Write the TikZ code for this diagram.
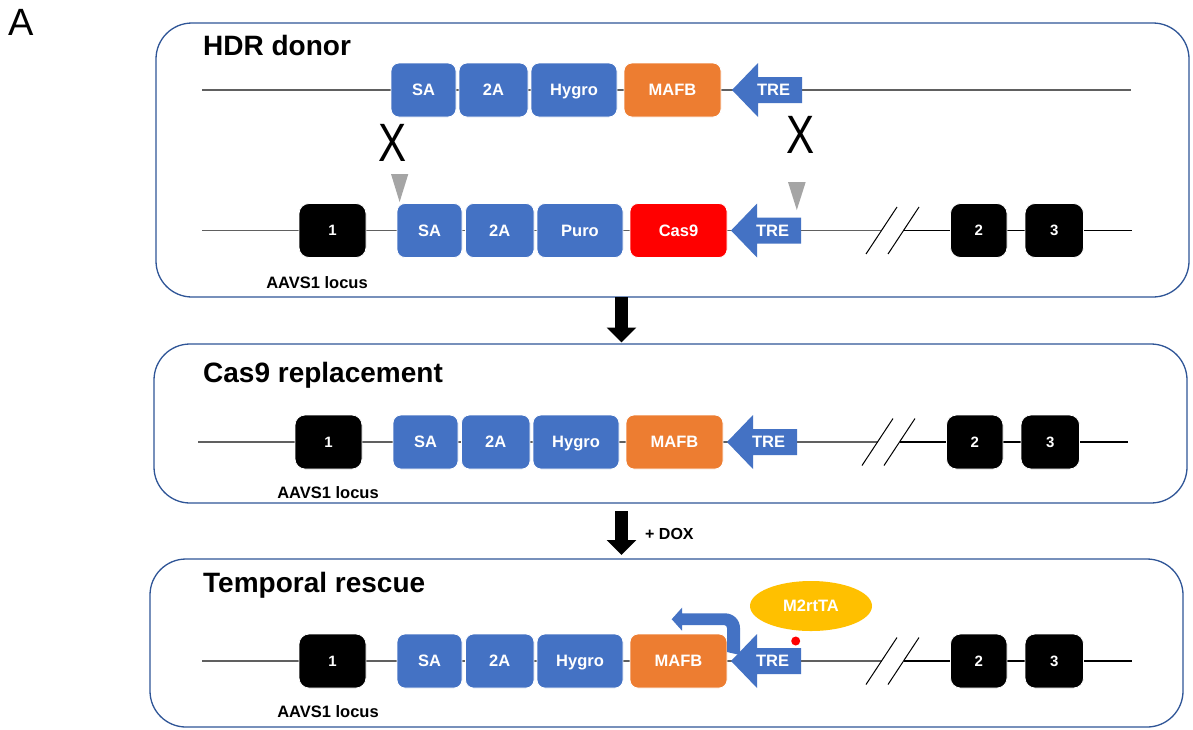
\documentclass[tikz,border=0pt]{standalone}
\usepackage{fontspec}
\setmainfont{Liberation Sans}
\usetikzlibrary{shapes.geometric,arrows.meta}
\definecolor{gblue}{HTML}{4472C4}
\definecolor{gorange}{HTML}{ED7D31}
\definecolor{gred}{HTML}{FF0000}
\definecolor{gyellow}{HTML}{FFC000}
\definecolor{ggray}{HTML}{A5A5A5}
\definecolor{pborder}{HTML}{2F5597}
\definecolor{lgray}{HTML}{606060}
\tikzset{
  panel/.style={draw=pborder, line width=1.3pt, rounded corners=36pt, inner sep=0pt},
  gene/.style={rounded corners=8pt, draw=white, line width=0.8pt, minimum height=54pt,
    inner sep=0pt, text=white, text height=11.8pt, text depth=0pt,
    font=\fontsize{16.5}{19}\selectfont\bfseries},
  exon/.style={gene, fill=black, rounded corners=10pt, text height=10.8pt,
    font=\fontsize{15}{18}\selectfont\bfseries},
  dna/.style={draw=lgray, line width=1.3pt},
  dnab/.style={draw=black, line width=1.3pt},
  slash/.style={draw=black, line width=1pt},
  title/.style={anchor=base west, inner sep=0pt, font=\fontsize{28}{32}\selectfont\bfseries},
  locus/.style={anchor=base, inner sep=0pt, font=\fontsize{16.5}{19}\selectfont\bfseries},
  tretext/.style={inner sep=0pt, text=white, text height=11.8pt, text depth=0pt,
    font=\fontsize{16.5}{19}\selectfont\bfseries},
  xmark/.style={inner sep=0pt, font=\fontsize{54}{54}\selectfont},
  blockarrow/.style={draw=black, line width=12.5pt, -{Triangle[length=15pt,width=29pt]}},
}
% TRE arrow: #1 name, #2 tip x, #3 y
\newcommand\trearrow[3]{%
  \fill[gblue] (#2,#3) -- ++(26,-27) -- ++(0,14) -- ++(44,0) -- ++(0,26) -- ++(-44,0) -- ++(0,14) -- cycle;
  \node[tretext] (#1) at (#2+41.5,#3) {TRE};}
% locus row: #1 prefix, #2 y, #3 x shift, #4 third label, #5 fourth label, #6 fourth colour
\newcommand\locusrow[6]{%
  \begin{scope}[shift={(#3,0)}]
  \coordinate (#1s) at (202,#2);
  \coordinate (#1a) at (881.5,#2);
  \coordinate (#1b) at (903.5,#2);
  \coordinate (#1e) at (1131.5,#2);
  \draw[dna] (#1s) -- (#1a);
  \draw[dnab] (#1b) -- (#1e);
  \draw[slash] (866,#2+23.5) -- (897,#2-23.5);
  \draw[slash] (888,#2+23.5) -- (919,#2-23.5);
  \node[exon, minimum width=67pt] (#1x1) at (332.5,#2) {1};
  \node[gene, fill=gblue, minimum width=65pt] (#1sa) at (429.5,#2) {SA};
  \node[gene, fill=gblue, minimum width=68.5pt] (#1ta) at (499.75,#2) {2A};
  \node[gene, fill=gblue, minimum width=86pt] (#1g3) at (580,#2) {#4};
  \node[gene, fill=#6, minimum width=97pt] (#1g4) at (678.5,#2) {#5};
  \node[exon, minimum width=56.5pt] (#1x2) at (978.75,#2) {2};
  \node[exon, minimum width=58.5pt] (#1x3) at (1054.25,#2) {3};
  \end{scope}}
\begin{document}
\begin{tikzpicture}[x=1pt,y=-1pt]
\useasboundingbox (0,0) rectangle (1193,729);
\fill[white] (0,0) rectangle (1193,729);
\node[anchor=base west, inner sep=0pt, font=\fontsize{38}{38}\selectfont] (A) at (8,35) {A};

% panels
\node[panel, minimum width=1033pt, minimum height=274pt] (p1) at (672.5,160) {};
\node[panel, minimum width=1033pt, minimum height=159pt] (p2) at (670.5,423.5) {};
\node[panel, minimum width=1033pt, minimum height=168pt] (p3) at (666.5,643) {};

\node[title] (t1) at (203,55) {HDR donor};
\node[title] (t2) at (203,382.7) {Cas9 replacement};
\node[title] (t3) at (203,592.7) {Temporal rescue};

% ---------- panel 1, donor row ----------
\coordinate (ds) at (202,90);
\coordinate (de) at (1131,90);
\draw[dna] (ds) -- (de);
\node[gene, fill=gblue, minimum width=65pt] (dsa) at (423.5,90) {SA};
\node[gene, fill=gblue, minimum width=69pt] (dta) at (493.5,90) {2A};
\node[gene, fill=gblue, minimum width=86pt] (dhy) at (574,90) {Hygro};
\node[gene, fill=gorange, minimum width=97pt] (dma) at (672.5,90) {MAFB};
\trearrow{dtre}{732}{90}

% crossover marks
\node[xmark] (x1) at (392.5,143) {\scalebox{0.78}[1]{X}};
\node[xmark] (x2) at (801,135) {\scalebox{0.78}[1]{X}};
\fill[ggray] (391,174) -- (408.3,174) -- (399.6,202) -- cycle;
\fill[ggray] (788,182) -- (805.7,182) -- (796.8,210) -- cycle;

% ---------- panel 1, locus row ----------
\locusrow{a}{230.5}{0}{Puro}{Cas9}{gred}
\trearrow{atre}{731}{230.5}
\node[locus] (l1) at (317,288) {AAVS1 locus};

% ---------- panel 2 ----------
\locusrow{b}{442}{-4}{Hygro}{MAFB}{gorange}
\trearrow{btre}{727}{442}
\node[locus] (l2) at (328,498) {AAVS1 locus};

% ---------- panel 3 ----------
\locusrow{c}{661}{0}{Hygro}{MAFB}{gorange}
\fill[gblue] (727,652) -- (727,628) .. controls (727,626.3) and (725.7,625) .. (724,625)
  -- (682,625) -- (682,630.7) -- (671.7,619.2) -- (682,607.7) -- (682,613.3) -- (725,613.3)
  .. controls (733.3,613.3) and (740,619.7) .. (740,628) -- (740,655) -- cycle;
\trearrow{ctre}{731}{661}
\node[ellipse, fill=gyellow, minimum width=122pt, minimum height=50pt, inner sep=0pt,
  text=white, text height=11.8pt, text depth=0pt,
  font=\fontsize{16.5}{19}\selectfont\bfseries] (rta) at (811,606) {M2rtTA};
\node[circle, fill=red, minimum size=9pt, inner sep=0pt] (dot) at (795.7,641) {};
\node[locus] (l3) at (328,717.7) {AAVS1 locus};

% ---------- block arrows ----------
\coordinate (a1s) at (621.5,297);
\coordinate (a1e) at (621.5,342.5);
\draw[blockarrow] (a1s) -- (a1e);
\coordinate (a2s) at (621.5,511);
\coordinate (a2e) at (621.5,555);
\draw[blockarrow] (a2s) -- (a2e);
\node[anchor=base west, inner sep=0pt, font=\fontsize{16}{19}\selectfont\bfseries] (dox) at (645,539) {+ DOX};
\end{tikzpicture}
\end{document}
